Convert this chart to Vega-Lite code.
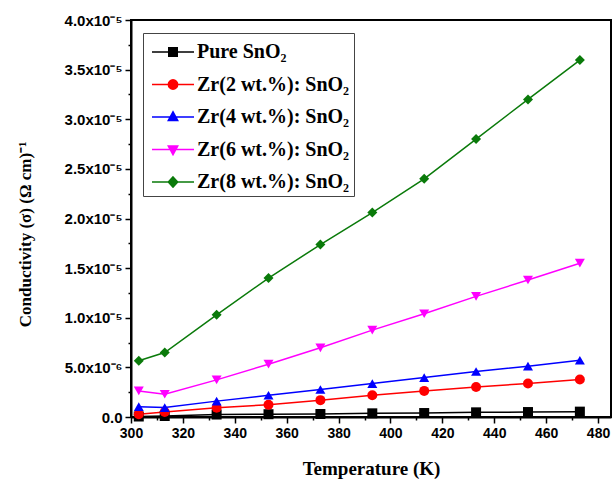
{
  "$schema": "https://vega.github.io/schema/vega-lite/v6.json",
  "width": 480,
  "height": 397,
  "autosize": "none",
  "padding": {"left": 131, "top": 20, "right": 2, "bottom": 67},
  "background": "white",
  "config": {
    "view": {"stroke": "black", "strokeWidth": 2},
    "axis": {"grid": false, "domainColor": "black", "tickColor": "black", "labelColor": "black", "titleColor": "black", "labelFlush": false}
  },
  "data": {
    "values": [
      {"T": 303, "sigma": 0.05e-6, "series": "Pure SnO₂"},
      {"T": 313, "sigma": 0.1e-6, "series": "Pure SnO₂"},
      {"T": 333, "sigma": 0.25e-6, "series": "Pure SnO₂"},
      {"T": 353, "sigma": 0.28e-6, "series": "Pure SnO₂"},
      {"T": 373, "sigma": 0.3e-6, "series": "Pure SnO₂"},
      {"T": 393, "sigma": 0.37e-6, "series": "Pure SnO₂"},
      {"T": 413, "sigma": 0.4e-6, "series": "Pure SnO₂"},
      {"T": 433, "sigma": 0.47e-6, "series": "Pure SnO₂"},
      {"T": 453, "sigma": 0.5e-6, "series": "Pure SnO₂"},
      {"T": 473, "sigma": 0.54e-6, "series": "Pure SnO₂"},
      {"T": 303, "sigma": 0.27e-6, "series": "Zr(2 wt.%): SnO₂"},
      {"T": 313, "sigma": 0.5e-6, "series": "Zr(2 wt.%): SnO₂"},
      {"T": 333, "sigma": 0.94e-6, "series": "Zr(2 wt.%): SnO₂"},
      {"T": 353, "sigma": 1.24e-6, "series": "Zr(2 wt.%): SnO₂"},
      {"T": 373, "sigma": 1.7e-6, "series": "Zr(2 wt.%): SnO₂"},
      {"T": 393, "sigma": 2.19e-6, "series": "Zr(2 wt.%): SnO₂"},
      {"T": 413, "sigma": 2.63e-6, "series": "Zr(2 wt.%): SnO₂"},
      {"T": 433, "sigma": 3.03e-6, "series": "Zr(2 wt.%): SnO₂"},
      {"T": 453, "sigma": 3.37e-6, "series": "Zr(2 wt.%): SnO₂"},
      {"T": 473, "sigma": 3.77e-6, "series": "Zr(2 wt.%): SnO₂"},
      {"T": 303, "sigma": 1.04e-6, "series": "Zr(4 wt.%): SnO₂"},
      {"T": 313, "sigma": 0.95e-6, "series": "Zr(4 wt.%): SnO₂"},
      {"T": 333, "sigma": 1.6e-6, "series": "Zr(4 wt.%): SnO₂"},
      {"T": 353, "sigma": 2.19e-6, "series": "Zr(4 wt.%): SnO₂"},
      {"T": 373, "sigma": 2.77e-6, "series": "Zr(4 wt.%): SnO₂"},
      {"T": 393, "sigma": 3.37e-6, "series": "Zr(4 wt.%): SnO₂"},
      {"T": 413, "sigma": 3.97e-6, "series": "Zr(4 wt.%): SnO₂"},
      {"T": 433, "sigma": 4.58e-6, "series": "Zr(4 wt.%): SnO₂"},
      {"T": 453, "sigma": 5.12e-6, "series": "Zr(4 wt.%): SnO₂"},
      {"T": 473, "sigma": 5.72e-6, "series": "Zr(4 wt.%): SnO₂"},
      {"T": 303, "sigma": 2.63e-6, "series": "Zr(6 wt.%): SnO₂"},
      {"T": 313, "sigma": 2.29e-6, "series": "Zr(6 wt.%): SnO₂"},
      {"T": 333, "sigma": 3.74e-6, "series": "Zr(6 wt.%): SnO₂"},
      {"T": 353, "sigma": 5.32e-6, "series": "Zr(6 wt.%): SnO₂"},
      {"T": 373, "sigma": 6.97e-6, "series": "Zr(6 wt.%): SnO₂"},
      {"T": 393, "sigma": 8.75e-6, "series": "Zr(6 wt.%): SnO₂"},
      {"T": 413, "sigma": 10.4e-6, "series": "Zr(6 wt.%): SnO₂"},
      {"T": 433, "sigma": 12.15e-6, "series": "Zr(6 wt.%): SnO₂"},
      {"T": 453, "sigma": 13.8e-6, "series": "Zr(6 wt.%): SnO₂"},
      {"T": 473, "sigma": 15.5e-6, "series": "Zr(6 wt.%): SnO₂"},
      {"T": 303, "sigma": 5.66e-6, "series": "Zr(8 wt.%): SnO₂"},
      {"T": 313, "sigma": 6.5e-6, "series": "Zr(8 wt.%): SnO₂"},
      {"T": 333, "sigma": 10.3e-6, "series": "Zr(8 wt.%): SnO₂"},
      {"T": 353, "sigma": 14.0e-6, "series": "Zr(8 wt.%): SnO₂"},
      {"T": 373, "sigma": 17.37e-6, "series": "Zr(8 wt.%): SnO₂"},
      {"T": 393, "sigma": 20.6e-6, "series": "Zr(8 wt.%): SnO₂"},
      {"T": 413, "sigma": 24.0e-6, "series": "Zr(8 wt.%): SnO₂"},
      {"T": 433, "sigma": 28.0e-6, "series": "Zr(8 wt.%): SnO₂"},
      {"T": 453, "sigma": 32.0e-6, "series": "Zr(8 wt.%): SnO₂"},
      {"T": 473, "sigma": 35.96e-6, "series": "Zr(8 wt.%): SnO₂"}
    ]
  },
  "layer": [
    {
      "mark": {"type": "line", "strokeWidth": 1.5},
      "encoding": {
        "x": {"field": "T", "type": "quantitative", "scale": {"domain": [300, 485], "nice": false, "zero": false},
          "axis": {"orient": "bottom", "values": [300, 320, 340, 360, 380, 400, 420, 440, 460, 480], "tickSize": 6, "tickWidth": 1.5, "domainWidth": 2,
            "labelFont": "Liberation Sans", "labelFontWeight": "bold", "labelFontSize": 14, "labelPadding": 3,
            "title": "Temperature (K)", "titleFont": "Liberation Serif", "titleFontSize": 19, "titleFontWeight": "bold", "titlePadding": 19}},
        "y": {"field": "sigma", "type": "quantitative", "scale": {"domain": [0, 4e-5], "nice": false, "zero": false},
          "axis": {"orient": "left", "values": [0, 5e-6, 1e-5, 1.5e-5, 2e-5, 2.5e-5, 3e-5, 3.5e-5, 4e-5], "tickSize": 6, "tickWidth": 1.5, "domainWidth": 2,
            "labelExpr": "datum.value == 0 ? '0.0' : (datum.value < 9e-6 ? format(datum.value*1e6, '.1f') + 'x10⁻⁶' : format(datum.value*1e5, '.1f') + 'x10⁻⁵')",
            "labelFont": "Liberation Sans", "labelFontWeight": "bold", "labelFontSize": 15, "labelPadding": 3,
            "title": "Conductivity (σ) (Ω cm)⁻¹", "titleFont": "Liberation Serif", "titleFontSize": 17, "titleFontWeight": "bold", "titlePadding": 30, "titleY": 214}},
        "color": {"field": "series", "type": "nominal",
          "scale": {"domain": ["Pure SnO₂", "Zr(2 wt.%): SnO₂", "Zr(4 wt.%): SnO₂", "Zr(6 wt.%): SnO₂", "Zr(8 wt.%): SnO₂"], "range": ["#000000", "#FF0000", "#0000FF", "#FF00FF", "#0A7A0A"]},
          "legend": null}
      }
    },
    {
      "mark": {"type": "point", "filled": true, "opacity": 1, "size": 100},
      "encoding": {
        "x": {"field": "T", "type": "quantitative", "axis": null},
        "y": {"field": "sigma", "type": "quantitative", "axis": null},
        "color": {"field": "series", "type": "nominal",
          "scale": {"domain": ["Pure SnO₂", "Zr(2 wt.%): SnO₂", "Zr(4 wt.%): SnO₂", "Zr(6 wt.%): SnO₂", "Zr(8 wt.%): SnO₂"], "range": ["#000000", "#FF0000", "#0000FF", "#FF00FF", "#0A7A0A"]},
          "legend": null},
        "shape": {"field": "series", "type": "nominal",
          "scale": {"domain": ["Pure SnO₂", "Zr(2 wt.%): SnO₂", "Zr(4 wt.%): SnO₂", "Zr(6 wt.%): SnO₂", "Zr(8 wt.%): SnO₂"], "range": ["square", "circle", "triangle-up", "triangle-down", "diamond"]},
          "legend": null}
      }
    },
    {
      "transform": [{"filter": "datum.T < 0"}],
      "mark": {"type": "point", "filled": true, "opacity": 1, "size": 784, "strokeWidth": 1.6},
      "encoding": {
        "x": {"field": "T", "type": "quantitative",
          "axis": {"orient": "bottom", "values": [310, 330, 350, 370, 390, 410, 430, 450, 470], "labels": false, "domain": false, "tickSize": 3, "tickWidth": 1.5, "title": null}},
        "y": {"field": "sigma", "type": "quantitative",
          "axis": {"orient": "left", "values": [2.5e-6, 7.5e-6, 1.25e-5, 1.75e-5, 2.25e-5, 2.75e-5, 3.25e-5, 3.75e-5], "labels": false, "domain": false, "tickSize": 3, "tickWidth": 1.5, "title": null}},
        "color": {"field": "series", "type": "nominal",
          "scale": {"domain": ["Pure SnO₂", "Zr(2 wt.%): SnO₂", "Zr(4 wt.%): SnO₂", "Zr(6 wt.%): SnO₂", "Zr(8 wt.%): SnO₂"], "range": ["#000000", "#FF0000", "#0000FF", "#FF00FF", "#0A7A0A"]},
          "legend": {"orient": "none", "legendX": 12, "legendY": 13, "title": null, "padding": 4,
            "strokeColor": "#444444", "fillColor": "white", "labelFont": "Liberation Serif", "labelFontWeight": "bold",
            "labelFontSize": 20, "labelColor": "black", "rowPadding": 7.5, "symbolOffset": 11, "labelOffset": 9,
            "symbolSize": 784, "symbolStrokeWidth": 1.6, "symbolOpacity": 1, "labelLimit": 300}},
        "stroke": {"field": "series", "type": "nominal",
          "scale": {"domain": ["Pure SnO₂", "Zr(2 wt.%): SnO₂", "Zr(4 wt.%): SnO₂", "Zr(6 wt.%): SnO₂", "Zr(8 wt.%): SnO₂"], "range": ["#000000", "#FF0000", "#0000FF", "#FF00FF", "#0A7A0A"]}},
        "shape": {"field": "series", "type": "nominal",
          "scale": {"domain": ["Pure SnO₂", "Zr(2 wt.%): SnO₂", "Zr(4 wt.%): SnO₂", "Zr(6 wt.%): SnO₂", "Zr(8 wt.%): SnO₂"],
            "range": [
              "M-1.5,0H1.5M-0.3,-0.3H0.3V0.3H-0.3Z",
              "M-1.5,0H1.5M-0.33,0A0.33,0.33 0 1,0 0.33,0A0.33,0.33 0 1,0 -0.33,0Z",
              "M-1.5,0H1.5M0,-0.36L0.33,0.24H-0.33Z",
              "M-1.5,0H1.5M0,0.36L0.33,-0.24H-0.33Z",
              "M-1.5,0H1.5M0,-0.36L0.33,0L0,0.36L-0.33,0Z"
            ]}}
      }
    }
  ],
  "resolve": {
    "scale": {"color": "independent", "shape": "independent", "stroke": "independent"},
    "legend": {"color": "independent", "shape": "independent", "stroke": "independent"},
    "axis": {"x": "independent", "y": "independent"}
  }
}
